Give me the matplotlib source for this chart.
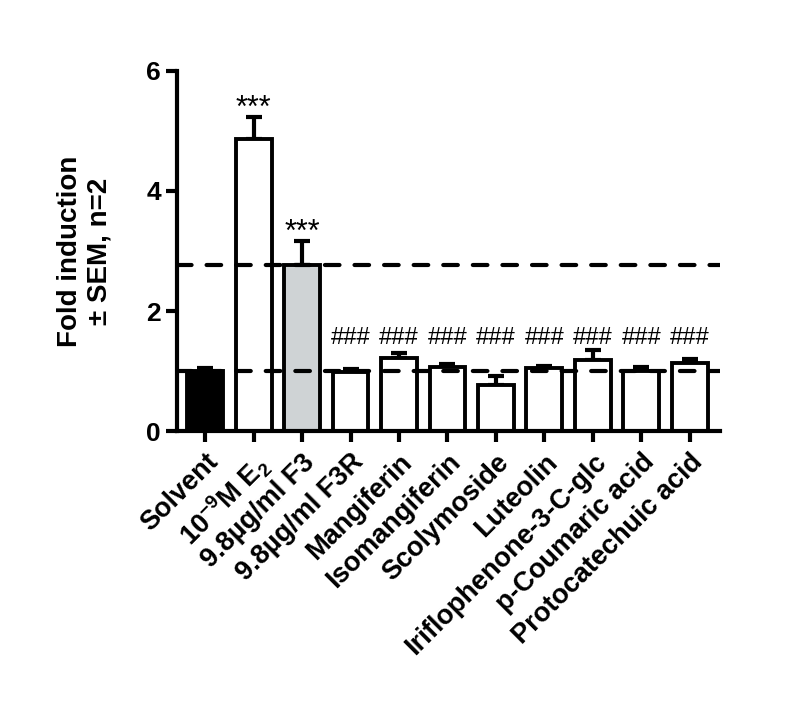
import matplotlib.pyplot as plt
import numpy as np

plt.rcParams['font.family'] = ['Liberation Sans', 'DejaVu Sans']
plt.rcParams['font.weight'] = 'bold'
plt.rcParams['mathtext.fontset'] = 'custom'
plt.rcParams['mathtext.rm'] = 'Liberation Sans:bold'
plt.rcParams['mathtext.it'] = 'Liberation Sans:bold'
plt.rcParams['mathtext.bf'] = 'Liberation Sans:bold'

# Data
labels = ['Solvent', r'10$^{-9}$M E$_2$', '9.8\u00b5g/ml F3', '9.8\u00b5g/ml F3R',
          'Mangiferin', 'Isomangiferin', 'Scolymoside', 'Luteolin',
          'Iriflophenone-3-C-glc', 'p-Coumaric acid', 'Protocatechuic acid']
means = [1.00, 4.87, 2.77, 0.98, 1.22, 1.07, 0.77, 1.05, 1.18, 1.00, 1.13]
sems = [0.05, 0.37, 0.40, 0.06, 0.08, 0.05, 0.15, 0.04, 0.17, 0.06, 0.07]
marks = ['', '***', '***', '###', '###', '###', '###', '###', '###', '###', '###']
fills = ['black', 'white', '#cfd3d5', 'white', 'white', 'white', 'white',
         'white', 'white', 'white', 'white']
ref_lines = [1.0, 2.77]

fig = plt.figure(figsize=(7.85, 7.09), dpi=100)
ax = fig.add_axes([0.2255, 0.392, 0.6915, 0.508])

x = np.arange(len(labels))
ax.errorbar(x, means, yerr=[np.zeros(len(sems)), sems], fmt='none',
            ecolor='black', elinewidth=3, capsize=6, capthick=3, zorder=1)
ax.bar(x, means, width=0.74, color=fills, edgecolor='black', linewidth=2.8, zorder=2)

# dashed reference lines (solvent level and F3 level)
for y in ref_lines:
    ax.axhline(y, color='black', linewidth=3, linestyle=(0, (3.5, 3.6)),
               dash_capstyle='round', zorder=3)

for i, m in enumerate(marks):
    if m == '***':
        ax.text(x[i], means[i] + sems[i] - 0.12, m, ha='center', va='bottom',
                fontsize=22, fontweight='normal')
    elif m == '###':
        ax.text(x[i], 1.36, m, ha='center', va='bottom', fontsize=17,
                fontweight='normal')

ax.set_xlim(-0.58, 10.62)
ax.set_ylim(0, 6)
ax.set_yticks([0, 2, 4, 6])
ax.set_xticks(x)
ax.set_xticklabels(labels, rotation=45, ha='right', rotation_mode='anchor',
                   fontsize=19.5, fontweight='bold')
ax.tick_params(axis='y', labelsize=19, width=3, length=8)
ax.tick_params(axis='x', width=3, length=8, pad=5)
for lab in ax.get_yticklabels():
    lab.set_fontweight('bold')

ax.spines['top'].set_visible(False)
ax.spines['right'].set_visible(False)
ax.spines['left'].set_linewidth(3)
ax.spines['bottom'].set_linewidth(3)

ax.set_ylabel('Fold induction\n\u00b1 SEM, n=2', fontsize=20, fontweight='bold',
              labelpad=24, linespacing=1.2)

fig.savefig('out.png', dpi=100)
